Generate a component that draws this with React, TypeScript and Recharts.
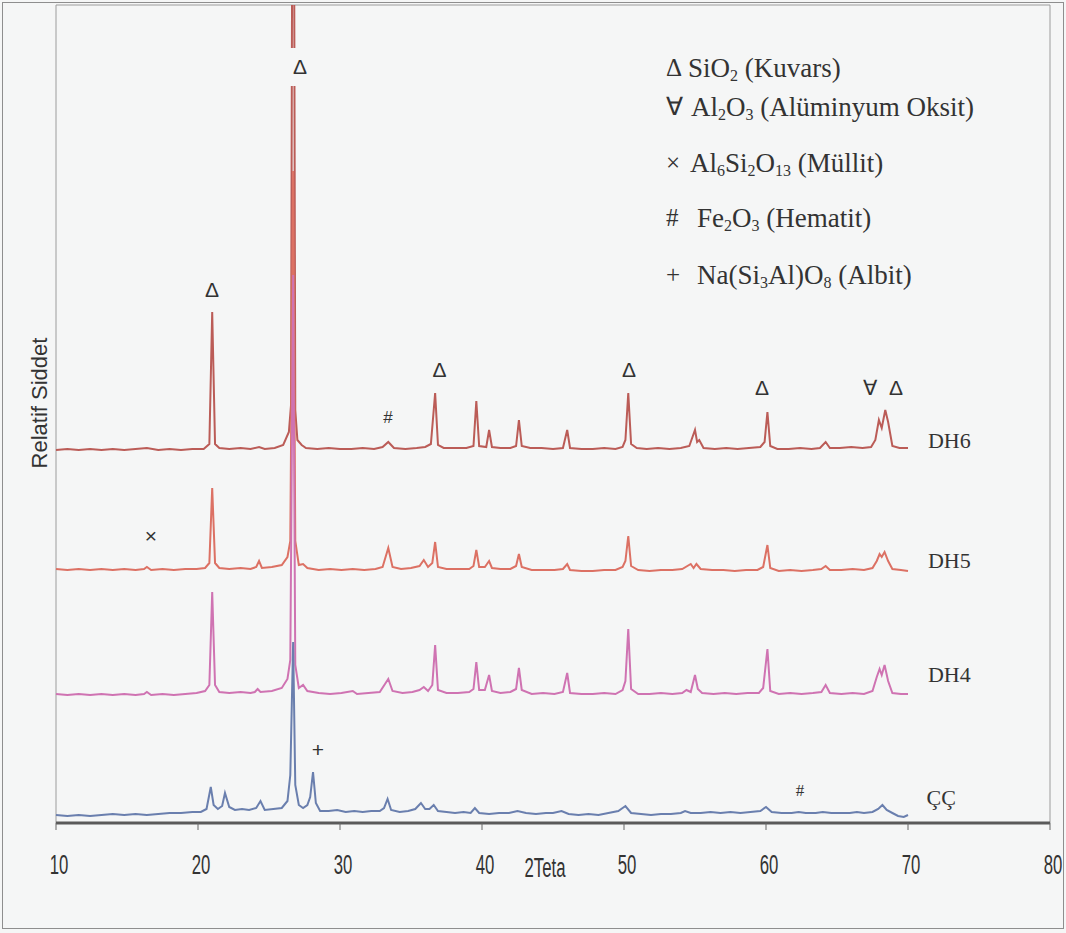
import React from "react";
import { LineChart, Line, XAxis, YAxis, ReferenceDot, ReferenceArea } from "recharts";

// 2-theta ticks on the x axis
const xTicks = [10, 20, 30, 40, 50, 60, 70, 80];

type Pt = [number, number];

// intensity above each trace's own baseline
const dh6: Pt[] = [
  [10.0, 0], [10.8, 1], [11.6, 0], [12.4, 1], [13.2, 0], [14.0, 1], [14.8, 0], [15.6, 1], [16.4, 2], [17.2, 0],
  [18.0, 1], [18.8, 0], [19.6, 1], [20.4, 1], [20.8, 6], [21.0, 138], [21.2, 6], [21.5, 2], [22.2, 1], [23.0, 2],
  [23.7, 1], [24.3, 3], [24.7, 1], [25.4, 2], [26.0, 5], [26.4, 18], [26.55, 45], [26.7, 900], [26.85, 40], [27.0, 10],
  [27.3, 5], [27.6, 2], [28.4, 1], [29.2, 2], [30.0, 1], [30.8, 1], [31.6, 2], [32.4, 1], [33.0, 3], [33.4, 8],
  [33.8, 2], [34.6, 1], [35.4, 2], [36.0, 3], [36.4, 6], [36.7, 57], [36.9, 5], [37.3, 2], [38.1, 2], [38.9, 2],
  [39.4, 4], [39.6, 49], [39.8, 4], [40.3, 3], [40.5, 20], [40.7, 3], [41.3, 2], [42.0, 2], [42.4, 4], [42.6, 30],
  [42.8, 4], [43.4, 2], [44.2, 2], [45.0, 1], [45.7, 2], [46.0, 20], [46.2, 2], [47.0, 1], [47.8, 1], [48.6, 2],
  [49.4, 1], [49.9, 3], [50.1, 10], [50.3, 57], [50.5, 6], [50.9, 2], [51.6, 1], [52.4, 2], [53.2, 1], [54.0, 2],
  [54.6, 4], [55.0, 20], [55.15, 8], [55.3, 10], [55.6, 2], [56.4, 1], [57.2, 2], [58.0, 1], [58.8, 2], [59.6, 3],
  [59.9, 8], [60.1, 38], [60.3, 4], [60.8, 1], [61.6, 1], [62.4, 2], [63.2, 1], [63.8, 2], [64.2, 8], [64.5, 2],
  [65.2, 2], [66.0, 3], [66.8, 2], [67.4, 3], [67.7, 10], [67.95, 30], [68.15, 22], [68.4, 40], [68.6, 28], [68.9, 4],
  [69.4, 2], [70.0, 2],
];

const dh5: Pt[] = [
  [10.0, 2], [10.8, 1], [11.6, 2], [12.4, 1], [13.2, 2], [14.0, 1], [14.8, 2], [15.6, 1], [16.2, 2], [16.4, 4],
  [16.7, 1], [17.5, 2], [18.3, 1], [19.1, 2], [19.9, 2], [20.5, 3], [20.8, 8], [21.0, 83], [21.2, 8], [21.5, 3],
  [22.2, 2], [23.0, 3], [23.7, 2], [24.1, 4], [24.3, 10], [24.5, 3], [25.2, 4], [25.9, 6], [26.3, 14], [26.5, 30],
  [26.7, 400], [26.85, 30], [27.1, 6], [27.4, 7], [27.7, 3], [28.5, 1], [29.3, 2], [30.1, 1], [30.9, 2], [31.7, 1],
  [32.5, 2], [33.0, 4], [33.4, 23], [33.7, 4], [34.3, 2], [35.0, 3], [35.6, 5], [35.9, 11], [36.2, 4], [36.5, 8],
  [36.7, 29], [36.9, 4], [37.5, 2], [38.3, 2], [39.1, 2], [39.4, 5], [39.6, 21], [39.8, 4], [40.2, 4], [40.5, 10],
  [40.7, 3], [41.3, 2], [42.0, 2], [42.4, 5], [42.6, 17], [42.8, 4], [43.5, 1], [44.3, 1], [45.1, 1], [45.7, 2],
  [46.0, 7], [46.2, 1], [47.0, 0], [47.8, 0], [48.6, 1], [49.4, 1], [49.9, 4], [50.1, 10], [50.3, 35], [50.5, 5],
  [51.0, 1], [51.8, 0], [52.6, 1], [53.4, 1], [54.1, 2], [54.7, 7], [54.9, 3], [55.1, 7], [55.4, 2], [56.2, 1],
  [57.0, 1], [57.8, 0], [58.6, 1], [59.4, 1], [59.8, 4], [60.1, 26], [60.3, 3], [60.9, 0], [61.7, 1], [62.5, 0],
  [63.3, 1], [63.9, 2], [64.2, 5], [64.5, 1], [65.3, 1], [66.1, 2], [66.9, 1], [67.5, 3], [67.8, 10], [68.0, 17],
  [68.15, 14], [68.35, 19], [68.6, 10], [68.9, 2], [69.5, 1], [70.0, 0],
];

const dh4: Pt[] = [
  [10.0, 1], [10.8, 0], [11.6, 1], [12.4, 0], [13.2, 1], [14.0, 0], [14.8, 1], [15.6, 0], [16.2, 1], [16.4, 3],
  [16.7, 0], [17.5, 1], [18.3, 0], [19.1, 1], [19.9, 2], [20.5, 4], [20.8, 10], [21.0, 103], [21.2, 10], [21.5, 3],
  [22.2, 2], [23.0, 3], [23.7, 2], [24.0, 3], [24.2, 6], [24.4, 3], [25.2, 4], [25.9, 7], [26.3, 16], [26.5, 35],
  [26.7, 420], [26.85, 30], [27.1, 7], [27.4, 10], [27.7, 4], [28.5, 2], [29.3, 1], [30.1, 2], [30.9, 4], [31.2, 1],
  [32.0, 2], [32.8, 3], [33.4, 16], [33.7, 4], [34.4, 2], [35.1, 3], [35.6, 5], [35.9, 8], [36.2, 4], [36.5, 10],
  [36.7, 50], [36.9, 5], [37.5, 2], [38.3, 2], [39.1, 3], [39.4, 6], [39.6, 33], [39.8, 5], [40.2, 5], [40.5, 20],
  [40.7, 4], [41.3, 2], [42.0, 3], [42.4, 6], [42.6, 27], [42.8, 5], [43.5, 1], [44.3, 2], [45.1, 1], [45.7, 3],
  [46.0, 22], [46.2, 2], [47.0, 1], [47.8, 1], [48.6, 2], [49.4, 1], [49.9, 5], [50.1, 14], [50.3, 66], [50.5, 6],
  [51.0, 1], [51.8, 1], [52.6, 2], [53.4, 1], [54.1, 2], [54.4, 5], [54.7, 3], [55.0, 20], [55.2, 6], [55.5, 2],
  [56.3, 1], [57.1, 2], [57.9, 1], [58.7, 2], [59.5, 2], [59.8, 7], [60.1, 46], [60.3, 4], [60.9, 1], [61.7, 2],
  [62.5, 1], [63.3, 2], [63.9, 3], [64.2, 10], [64.5, 2], [65.3, 1], [66.1, 2], [66.9, 1], [67.5, 4], [67.8, 18],
  [68.0, 26], [68.15, 20], [68.35, 30], [68.6, 14], [68.9, 2], [69.5, 1], [70.0, 1],
];

const cc: Pt[] = [
  [10.0, 0], [10.8, -1], [11.6, 0], [12.4, -1], [13.2, 0], [14.0, 1], [14.8, 0], [15.6, 1], [16.4, 0], [17.2, 1],
  [18.0, 2], [18.8, 2], [19.6, 3], [20.2, 3], [20.6, 6], [20.9, 28], [21.1, 10], [21.4, 6], [21.7, 9], [21.9, 22],
  [22.2, 8], [22.6, 5], [23.1, 6], [23.6, 5], [24.1, 7], [24.4, 14], [24.7, 5], [25.3, 6], [25.9, 7], [26.3, 14],
  [26.5, 40], [26.7, 173], [26.85, 30], [27.1, 10], [27.4, 7], [27.7, 10], [27.9, 18], [28.1, 43], [28.3, 12], [28.6, 4],
  [29.2, 4], [29.8, 5], [30.4, 3], [31.0, 4], [31.6, 3], [32.2, 4], [32.8, 4], [33.1, 7], [33.35, 16], [33.6, 5],
  [34.2, 3], [34.8, 4], [35.3, 6], [35.7, 12], [36.0, 6], [36.3, 6], [36.6, 10], [36.9, 4], [37.5, 3], [38.1, 2],
  [38.7, 3], [39.2, 2], [39.5, 7], [39.8, 2], [40.5, 1], [41.2, 2], [41.9, 2], [42.5, 4], [43.1, 2], [43.8, 1],
  [44.5, 2], [45.0, 2], [45.6, 4], [46.1, 1], [46.8, 0], [47.5, 1], [48.2, 0], [48.9, 2], [49.6, 4], [50.1, 9],
  [50.5, 2], [51.2, 1], [51.9, 0], [52.6, 1], [53.3, 1], [54.0, 2], [54.3, 4], [54.7, 2], [55.4, 2], [56.1, 3],
  [56.8, 2], [57.5, 3], [58.2, 2], [58.9, 3], [59.6, 4], [60.0, 8], [60.4, 3], [61.1, 2], [61.8, 2], [62.3, 3],
  [62.8, 2], [63.5, 2], [64.0, 3], [64.6, 2], [65.3, 2], [65.9, 2], [66.4, 3], [66.9, 2], [67.5, 3], [67.9, 6],
  [68.2, 10], [68.5, 5], [68.9, 2], [69.3, -1], [69.7, -2], [70.0, 0],
];

const traceNames = ["DH6", "DH5", "DH4", "ÇÇ"];
const traceValues = [dh6, dh5, dh4, cc];
// vertical shift of each pattern in the stack
const traceOffsets = [373, 252, 128, 8];
const traceColors = ["#bb5c57", "#dc7164", "#cf73b2", "#6a7fae"];

// phase marks: symbol, 2-theta, height on the stacked scale
const marks: { sym: string; t: number; h: number; serif?: boolean }[] = [
  { sym: "Δ", t: 20.99, h: 533 },
  { sym: "#", t: 33.38, h: 406 },
  { sym: "Δ", t: 37.0, h: 453 },
  { sym: "Δ", t: 50.35, h: 453 },
  { sym: "Δ", t: 59.72, h: 435 },
  { sym: "∀", t: 67.32, h: 435 },
  { sym: "Δ", t: 69.15, h: 435 },
  { sym: "×", t: 16.69, h: 287 },
  { sym: "+", t: 28.45, h: 73 },
  { sym: "#", t: 62.39, h: 33, serif: true },
];
// the mark over the main quartz peak sits on a blank patch that breaks the line
const topMark = { sym: "Δ", t: 27.18, h: 756 };

// trace labels at the right end
const labelT = [71.4, 71.4, 71.4, 71.3];
const labelH = [383, 263, 149, 26];

const BG = "#f5f6f6";
const INK = "#333";
const PLOT = { left: 56, right: 1050, top: 5, bottom: 823 };

const legendRows: { sym: string; parts: [string, string?][]; top: number; textLeft: number }[] = [
  { sym: "Δ", parts: [["SiO", "2"], [" (Kuvars)"]], top: 52, textLeft: 688 },
  { sym: "∀", parts: [["Al", "2"], ["O", "3"], [" (Alüminyum Oksit)"]], top: 91, textLeft: 691 },
  { sym: "×", parts: [["Al", "6"], ["Si", "2"], ["O", "13"], [" (Müllit)"]], top: 147, textLeft: 690 },
  { sym: "#", parts: [["Fe", "2"], ["O", "3"], [" (Hematit)"]], top: 202, textLeft: 697 },
  { sym: "+", parts: [["Na(Si", "3"], ["Al)O", "8"], [" (Albit)"]], top: 259, textLeft: 697 },
];

function XTick(props: any) {
  const { x, y, payload } = props;
  return (
    <text
      transform={`translate(${x + 3},${y + 42}) scale(0.62,1)`}
      textAnchor="middle"
      fontFamily="Arial, 'Liberation Sans', sans-serif"
      fontSize={27}
      fill={INK}
    >
      {payload.value}
    </text>
  );
}

export default function App() {
  const series = traceValues.map((vals, i) =>
    vals.map(([t, v]) => ({ t, v: v + traceOffsets[i] }))
  );
  const topX = PLOT.left + ((topMark.t - 10) / 70) * (PLOT.right - PLOT.left);
  const topY = PLOT.bottom - topMark.h;

  return (
    <div style={{ position: "absolute", left: 0, top: 0, width: 1066, height: 933, background: BG }}>
      <div
        style={{
          position: "absolute",
          left: 2,
          top: 2,
          width: 1060,
          height: 925,
          border: "1px solid #8e8e8e",
        }}
      />
      <LineChart
        width={1066}
        height={933}
        margin={{ top: 5, right: 16, bottom: 50, left: 56 }}
        style={{ position: "absolute", left: 0, top: 0 }}
      >
        <XAxis
          dataKey="t"
          type="number"
          domain={[10, 80]}
          ticks={xTicks}
          height={60}
          axisLine={{ stroke: "#5a5a5a", strokeWidth: 3 }}
          tickLine={{ stroke: "#666" }}
          tickSize={7}
          tick={<XTick />}
          allowDuplicatedCategory={false}
        />
        <YAxis hide type="number" domain={[0, 818]} allowDataOverflow />
        <ReferenceArea x1={10} x2={80} y1={0} y2={818} fill="none" stroke="#9c9c9c" strokeWidth={1} ifOverflow="visible" />
        {series.map((d, i) => (
          <Line
            key={traceNames[i]}
            data={d}
            dataKey="v"
            type="linear"
            dot={false}
            stroke={traceColors[i]}
            strokeWidth={2}
            isAnimationActive={false}
          />
        ))}
        {marks.map((m, i) => (
          <ReferenceDot
            key={"m" + i}
            x={m.t}
            y={m.h}
            r={0}
            ifOverflow="visible"
            shape={(p: any) => (
              <text
                x={p.cx}
                y={p.cy}
                dy="0.35em"
                textAnchor="middle"
                fontFamily={m.serif ? "'Liberation Serif', serif" : "Arial, 'Liberation Sans', sans-serif"}
                fontSize={m.sym === "#" ? 17 : 21}
                fill={INK}
              >
                {m.sym}
              </text>
            )}
          />
        ))}
        {traceNames.map((n, i) => (
          <ReferenceDot
            key={"l" + n}
            x={labelT[i]}
            y={labelH[i]}
            r={0}
            ifOverflow="visible"
            shape={(p: any) => (
              <text
                x={p.cx}
                y={p.cy}
                dy="0.35em"
                fontFamily="'Liberation Serif', 'Times New Roman', serif"
                fontSize={22}
                fill={INK}
              >
                {n}
              </text>
            )}
          />
        ))}
      </LineChart>

      <div
        style={{
          position: "absolute",
          zIndex: 2,
          left: topX - 14,
          top: topY - 19,
          width: 28,
          height: 38,
          background: BG,
          color: INK,
          fontFamily: "Arial, 'Liberation Sans', sans-serif",
          fontSize: 21,
          lineHeight: "38px",
          textAlign: "center",
        }}
      >
        {topMark.sym}
      </div>

      <div
        style={{
          position: "absolute",
          left: 40,
          top: 403,
          transform: "translate(-50%,-50%) rotate(-90deg)",
          fontFamily: "Arial, 'Liberation Sans', sans-serif",
          fontSize: 22,
          color: INK,
          whiteSpace: "nowrap",
        }}
      >
        Relatif Siddet
      </div>

      <div
        style={{
          position: "absolute",
          left: 545,
          top: 868,
          transform: "translate(-50%,-50%) scale(0.62,1)",
          fontFamily: "Arial, 'Liberation Sans', sans-serif",
          fontSize: 27,
          color: INK,
          whiteSpace: "nowrap",
        }}
      >
        2Teta
      </div>

      {legendRows.map((r) => (
        <React.Fragment key={r.sym}>
          <div
            style={{
              position: "absolute",
              left: 666,
              top: r.top,
              fontFamily: "'Liberation Serif', 'Times New Roman', serif",
              fontSize: 25,
              lineHeight: "32px",
              color: INK,
            }}
          >
            {r.sym}
          </div>
          <div
            style={{
              position: "absolute",
              left: r.textLeft,
              top: r.top,
              fontFamily: "'Liberation Serif', 'Times New Roman', serif",
              fontSize: 27,
              lineHeight: "32px",
              color: INK,
              whiteSpace: "nowrap",
            }}
          >
            {r.parts.map(([txt, sub], j) => (
              <span key={j}>
                {txt}
                {sub && <sub style={{ fontSize: 16, verticalAlign: "-4px", lineHeight: 0 }}>{sub}</sub>}
              </span>
            ))}
          </div>
        </React.Fragment>
      ))}
    </div>
  );
}
